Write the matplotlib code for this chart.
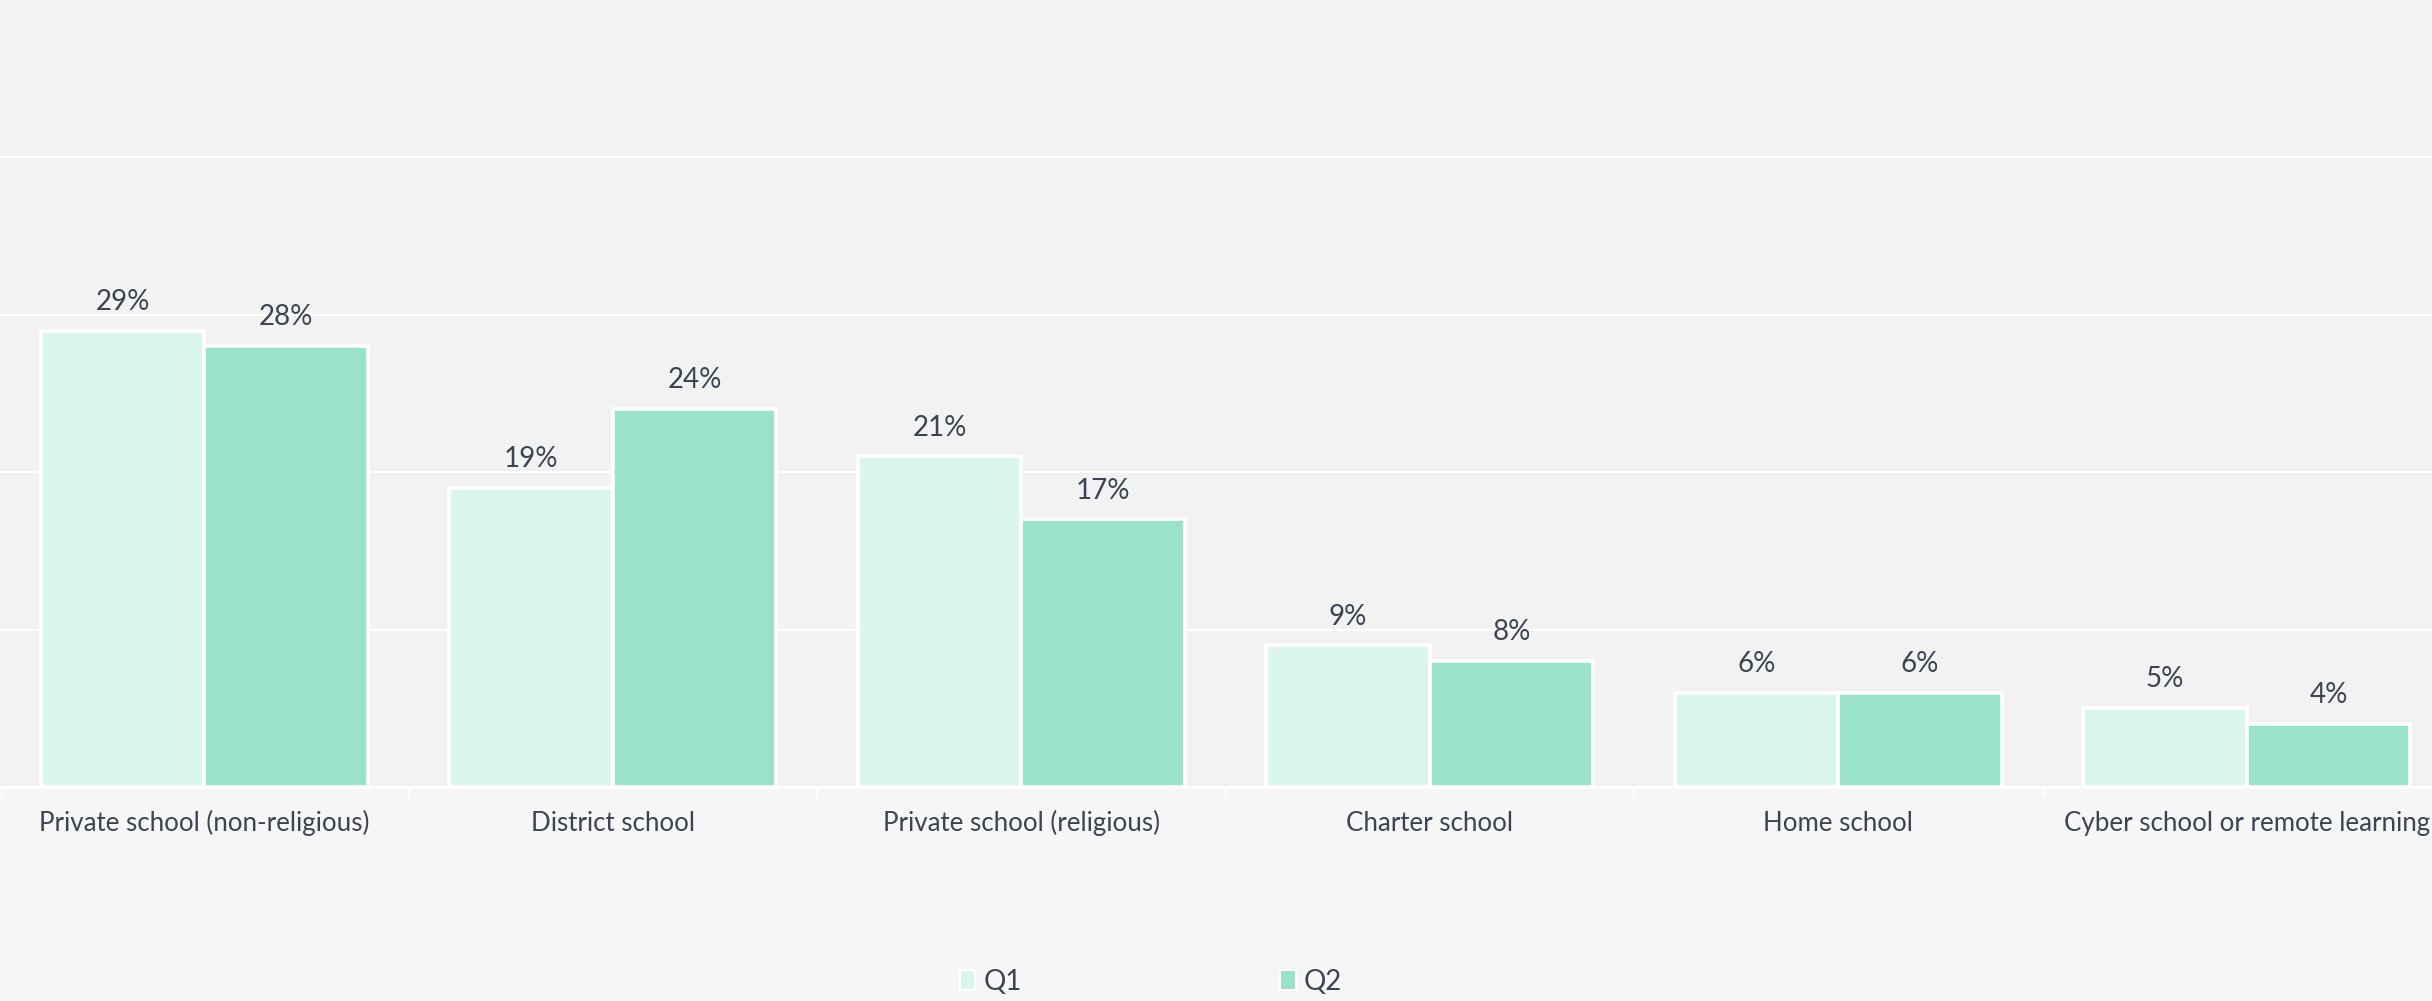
import numpy as np
import matplotlib.pyplot as plt
from matplotlib.patches import Patch

# School type shares by quarter
categories = ['Private school (non-religious)', 'District school', 'Private school (religious)',
              'Charter school', 'Home school', 'Cyber school or remote learning']
q1_values = [29, 19, 21, 9, 6, 5]
q2_values = [28, 24, 17, 8, 6, 4]
series_names = ['Q1', 'Q2']

q1_color = '#daf5ec'
q2_color = '#9ae2c8'
text_color = '#3b4452'

plt.rcParams['font.family'] = ['Lato', 'DejaVu Sans']

W, H = 2432, 1001
fig = plt.figure(figsize=(W / 100, H / 100), dpi=100)
fig.patch.set_facecolor('#f6f6f6')

# plot area runs a bit past the right edge, like the original export
ax = fig.add_axes([0, 1 - 787 / H, 2451 / W, 787 / H])
ax.set_facecolor('#f2f2f2')

x = np.arange(len(categories))
bw = 0.4
bars1 = ax.bar(x - bw / 2, q1_values, bw, color=q1_color, edgecolor='white', linewidth=2.6,
               label=series_names[0], zorder=3)
bars2 = ax.bar(x + bw / 2, q2_values, bw, color=q2_color, edgecolor='white', linewidth=2.6,
               label=series_names[1], zorder=3)

for bars in (bars1, bars2):
    for b in bars:
        ax.annotate(f'{b.get_height():.0f}%', (b.get_x() + b.get_width() / 2, b.get_height()),
                    xytext=(0, 15), textcoords='offset points', ha='center', va='baseline',
                    fontsize=20, color=text_color)

for i, name in enumerate(categories):
    ax.annotate(name, (i, 0), xytext=(0, -32), textcoords='offset points', ha='center',
                va='baseline', fontsize=18.6, color=text_color, annotation_clip=False)

ax.set_xlim(-0.5, len(categories) - 0.5)
ax.set_ylim(0, 50)
ax.set_yticks([10, 20, 30, 40])
ax.yaxis.grid(True, color='white', linewidth=1.5, zorder=0)
ax.set_axisbelow(True)
ax.tick_params(axis='y', length=0, labelleft=False)

ax.set_xticks(np.arange(len(categories) + 1) - 0.5)
ax.tick_params(axis='x', length=7, width=1.5, color='white', labelbottom=False)

for side in ('top', 'right', 'left'):
    ax.spines[side].set_visible(False)
ax.spines['bottom'].set_color('white')
ax.spines['bottom'].set_linewidth(2)

handles = [Patch(facecolor=q1_color, edgecolor='white', linewidth=1.5),
           Patch(facecolor=q2_color, edgecolor='white', linewidth=1.5)]
fig.legend(handles, series_names, loc='center', bbox_to_anchor=(1151 / W, 1 - 982 / H),
           ncol=2, frameon=False, fontsize=20, labelcolor=text_color,
           handlelength=0.55, handleheight=0.75, handletextpad=0.3, columnspacing=9.3)

fig.savefig('out.png', dpi=100, facecolor=fig.get_facecolor())
